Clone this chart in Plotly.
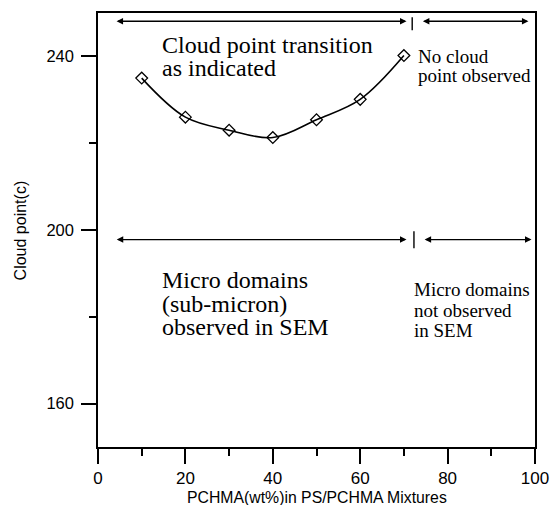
import plotly.graph_objects as go

# ---- data -------------------------------------------------------------
pchma_wt = [10, 20, 30, 40, 50, 60, 70]
cloud_point = [235.0, 226.0, 223.0, 221.3, 225.4, 230.1, 240.2]

x_ticks = [0, 20, 40, 60, 80, 100]
x_minor = [10, 30, 50, 70, 90]
y_ticks = [160, 200, 240]
y_minor = [180, 220]

# region arrows: (level, x_start, x_end)
region_arrows = [
    (248.1, 3.9, 70.6),
    (248.1, 74.0, 98.5),
    (197.8, 3.95, 70.6),
    (197.8, 74.4, 99.2),
]
# divider bars: (x, y_top, y_bottom)
dividers = [
    (71.9, 249.0, 246.0),
    (72.3, 199.7, 195.8),
]
# text lines: (text, x_left, y_center, size)
text_lines = [
    ("Cloud point transition", 14.4, 242.63, 24),
    ("as indicated", 14.4, 237.26, 24),
    ("No cloud", 73.0, 239.93, 19),
    ("point observed", 73.0, 235.55, 19),
    ("Micro domains", 14.5, 188.41, 24),
    ("(sub-micron)", 14.5, 183.04, 24),
    ("observed in SEM", 14.5, 177.65, 24),
    ("Micro domains", 72.0, 186.34, 19),
    ("not observed", 72.0, 181.34, 19),
    ("in SEM", 72.0, 176.73, 19),
]

SERIF = "Liberation Serif, Times New Roman, serif"
SANS = "Liberation Sans, Arial, sans-serif"

fig = go.Figure()
fig.add_trace(go.Scatter(
    x=pchma_wt, y=cloud_point, mode="lines+markers",
    line=dict(color="black", width=1.6, shape="spline", smoothing=1.0),
    marker=dict(symbol="diamond-open", size=9, color="black",
                line=dict(color="black", width=1.3)),
    showlegend=False, hoverinfo="skip",
))

annotations = []
for lvl, x0, x1 in region_arrows:
    annotations.append(dict(
        x=x1, y=lvl, ax=x0, ay=lvl, xref="x", yref="y", axref="x", ayref="y",
        text="", showarrow=True, arrowhead=2, startarrowhead=2,
        arrowside="end+start", arrowsize=1.0, startarrowsize=1.0,
        arrowwidth=1.3, arrowcolor="black", standoff=0, startstandoff=0,
    ))
for txt, x, y, s in text_lines:
    annotations.append(dict(
        x=x, y=y, xref="x", yref="y", text=txt, showarrow=False,
        xanchor="left", yanchor="middle", borderpad=0,
        font=dict(family=SERIF, size=s, color="black"),
    ))
annotations.append(dict(
    x=0.5, y=-0.1172, xref="paper", yref="paper",
    text="PCHMA(wt%)in PS/PCHMA Mixtures", showarrow=False,
    xanchor="center", yanchor="middle",
    font=dict(family=SANS, size=15.8, color="black"),
))
annotations.append(dict(
    x=-0.1776, y=0.5, xref="paper", yref="paper",
    text="Cloud point(c)", showarrow=False, textangle=-90,
    xanchor="center", yanchor="middle",
    font=dict(family=SANS, size=16, color="black"),
))

shapes = []
for x, yt, yb in dividers:
    shapes.append(dict(type="line", xref="x", yref="y", x0=x, x1=x, y0=yt, y1=yb,
                       line=dict(color="black", width=1.4)))

fig.update_layout(
    width=551, height=505,
    margin=dict(l=98, r=16, t=13, b=58, autoexpand=False),
    paper_bgcolor="white", plot_bgcolor="white",
    annotations=annotations, shapes=shapes,
    xaxis=dict(
        range=[0, 100], tickvals=x_ticks, ticks="outside", ticklen=15,
        tickwidth=1.5, tickcolor="black", showline=True, linewidth=1.5,
        linecolor="black", mirror=True, showgrid=False, zeroline=False,
        tickfont=dict(family=SANS, size=17, color="black"),
        ticklabelstandoff=0,
        minor=dict(tickvals=x_minor, ticks="outside", ticklen=7,
                   tickwidth=1.5, tickcolor="black", showgrid=False),
    ),
    yaxis=dict(
        range=[150, 250], tickvals=y_ticks, ticks="outside", ticklen=15,
        tickwidth=1.5, tickcolor="black", showline=True, linewidth=1.5,
        linecolor="black", mirror=True, showgrid=False, zeroline=False,
        tickfont=dict(family=SANS, size=16.5, color="black"),
        ticklabelstandoff=4,
        minor=dict(tickvals=y_minor, ticks="outside", ticklen=7,
                   tickwidth=1.5, tickcolor="black", showgrid=False),
    ),
)

fig.write_html("out.html")
